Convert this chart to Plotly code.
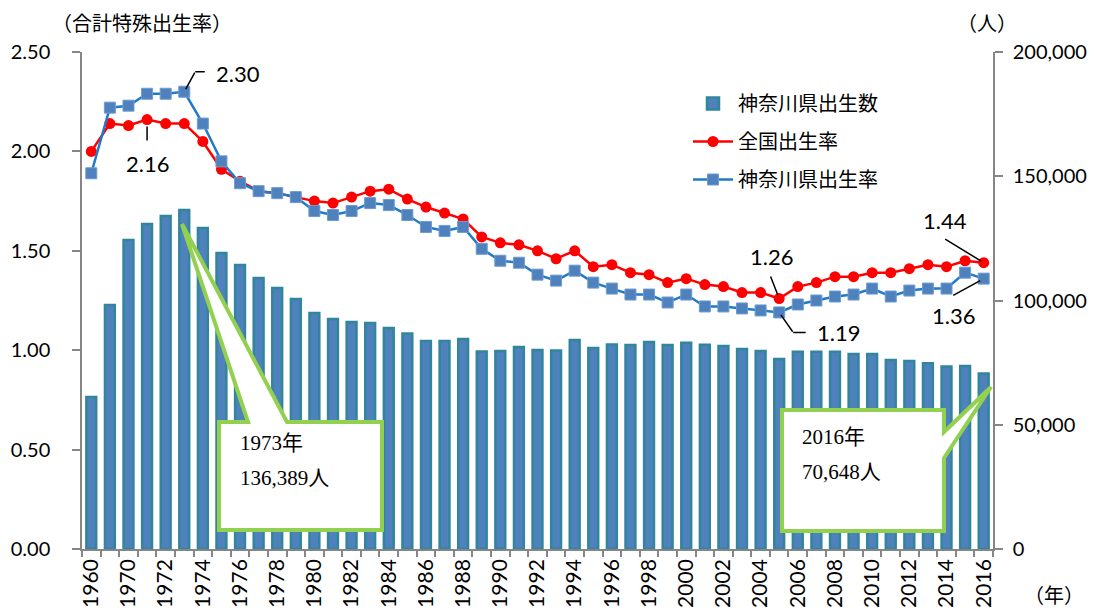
import plotly.graph_objects as go

years = ["1960", "1965"] + [str(y) for y in range(1970, 2017)]

births_kanagawa = [
    61200, 98200, 124300, 130800, 134000, 136389, 129200, 119100, 114300, 109100,
    105000, 100600, 95000, 92600, 91300, 90900, 88900, 86700, 83700, 83700,
    84500, 79500, 79700, 81300, 80100, 79900, 84100, 80900, 82300, 82100,
    83300, 82100, 83000, 82200, 81700, 80500, 79700, 76500, 79400, 79400,
    79400, 78500, 78500, 76100, 75700, 74700, 73400, 73600, 70648,
]

tfr_national = [
    2.00, 2.14, 2.13, 2.16, 2.14, 2.14, 2.05, 1.91, 1.85, 1.80,
    1.79, 1.77, 1.75, 1.74, 1.77, 1.80, 1.81, 1.76, 1.72, 1.69,
    1.66, 1.57, 1.54, 1.53, 1.50, 1.46, 1.50, 1.42, 1.43, 1.39,
    1.38, 1.34, 1.36, 1.33, 1.32, 1.29, 1.29, 1.26, 1.32, 1.34,
    1.37, 1.37, 1.39, 1.39, 1.41, 1.43, 1.42, 1.45, 1.44,
]

tfr_kanagawa = [
    1.89, 2.22, 2.23, 2.29, 2.29, 2.30, 2.14, 1.95, 1.84, 1.80,
    1.79, 1.77, 1.70, 1.68, 1.70, 1.74, 1.73, 1.68, 1.62, 1.60,
    1.62, 1.51, 1.45, 1.44, 1.38, 1.35, 1.40, 1.34, 1.31, 1.28,
    1.28, 1.24, 1.28, 1.22, 1.22, 1.21, 1.20, 1.19, 1.23, 1.25,
    1.27, 1.28, 1.31, 1.27, 1.30, 1.31, 1.31, 1.39, 1.36,
]

tick_text = [y if i % 2 == 0 else "" for i, y in enumerate(years)]

NUM_FONT = "Lato, 'Liberation Sans', sans-serif"
JP_FONT = "'Noto Sans CJK JP', sans-serif"
SERIF = "'Liberation Serif', 'Noto Sans CJK JP', serif"
AXIS_COLOR = "#868686"
GREEN = "#92D050"

# page has an 8px body margin; work in page pixels, figure is shifted by OFF
OFF = 8
L, R, T, B = 82, 993, 52, 549
W, H = 1098 - OFF, 615 - OFF


def px(xp):
    return (xp - L) / (R - L)


def py(yp):
    return (B - yp) / (B - T)


fig = go.Figure()

fig.add_trace(go.Bar(
    x=years, y=births_kanagawa, name="神奈川県出生数",
    marker=dict(color="#4F81BD", line=dict(color="#31859C", width=2.5)),
    yaxis="y", legendgroup="a",
))
fig.add_trace(go.Scatter(
    x=years, y=tfr_national, name="全国出生率", mode="lines+markers",
    line=dict(color="#FF0000", width=2.5),
    marker=dict(symbol="circle", size=11, color="#FF0000"),
    yaxis="y2", legendgroup="b",
))
fig.add_trace(go.Scatter(
    x=years, y=tfr_kanagawa, name="神奈川県出生率", mode="lines+markers",
    line=dict(color="#1F7AC8", width=2.5),
    marker=dict(symbol="square", size=11, color="#4F81BD",
                line=dict(color="#6E9BD3", width=1)),
    yaxis="y2", legendgroup="c",
))

annotations = []


def leader(year, series, ax, ay, xshift=0, yshift=0, standoff=0):
    i = years.index(year)
    annotations.append(dict(
        x=i, y=series[i], xref="x", yref="y2", text=" ", showarrow=True,
        arrowhead=0, arrowwidth=1.5, arrowcolor="black", ax=ax, ay=ay,
        xshift=xshift, yshift=yshift, standoff=standoff,
        font=dict(size=1), borderpad=0,
    ))


def label(text, xpix, ypix, size=22):
    annotations.append(dict(
        x=px(xpix), y=py(ypix), xref="paper", yref="paper", text=text,
        showarrow=False, xanchor="center", yanchor="middle",
        font=dict(family=NUM_FONT, size=size, color="black"),
    ))


# 2.30 (Kanagawa 1973)
leader("1973", tfr_kanagawa, 11, -20, standoff=3)
leader("1973", tfr_kanagawa, 10, 0, xshift=11, yshift=20)
label("2.30", 238, 74)
# 2.16 (national 1971)
leader("1971", tfr_national, 0, 22, standoff=7)
label("2.16", 147, 163)
# 1.26 (national 2005)
leader("2005", tfr_national, -9, -23, standoff=4)
label("1.26", 771, 256)
# 1.19 (Kanagawa 2005)
leader("2005", tfr_kanagawa, 14, 20, standoff=3)
leader("2005", tfr_kanagawa, 13, 0, xshift=14, yshift=-20)
label("1.19", 838, 332)
# 1.44 (national 2016)
leader("2016", tfr_national, -39, -24, standoff=3)
label("1.44", 945, 220)
# 1.36 (Kanagawa 2016)
leader("2016", tfr_kanagawa, -31, 17, standoff=4)
label("1.36", 953, 316)

# axis titles
annotations.append(dict(x=px(50), y=py(22), xref="paper", yref="paper",
                        text="（合計特殊出生率）", showarrow=False, xanchor="left",
                        yanchor="middle", font=dict(family=JP_FONT, size=20, color="black")))
annotations.append(dict(x=px(955), y=py(22), xref="paper", yref="paper",
                        text="（人）", showarrow=False, xanchor="left",
                        yanchor="middle", font=dict(family=JP_FONT, size=20, color="black")))
annotations.append(dict(x=px(1022), y=py(594), xref="paper", yref="paper",
                        text="（年）", showarrow=False, xanchor="left",
                        yanchor="middle", font=dict(family=JP_FONT, size=20, color="black")))

# callout texts
for lines_, xl, yt in [(("1973年", "136,389人"), 238, 443),
                       (("2016年", "70,648人"), 800, 437)]:
    for k, t in enumerate(lines_):
        annotations.append(dict(x=px(xl), y=py(yt + 35 * k), xref="paper", yref="paper",
                                text=t, showarrow=False, xanchor="left", yanchor="middle",
                                font=dict(family=SERIF, size=21, color="black")))

shapes = []


def callout(points):
    d = "M " + " L ".join(f"{px(a):.5f},{py(b):.5f}" for a, b in points) + " Z"
    shapes.append(dict(type="path", path=d, xref="paper", yref="paper",
                       fillcolor="white", line=dict(color=GREEN, width=4), layer="above"))


callout([(219, 422), (248, 422), (182, 224), (287, 422), (382, 422),
         (382, 530), (219, 530)])
callout([(782, 410), (944, 410), (944, 432), (991, 387), (944, 458),
         (944, 531), (782, 531)])

fig.update_layout(
    width=W, height=H,
    margin=dict(l=L - OFF, r=1098 - R, t=T - OFF, b=615 - B, pad=0),
    paper_bgcolor="white", plot_bgcolor="white",
    bargap=0.47,
    showlegend=True,
    legend=dict(x=px(688), y=py(84), xanchor="left", yanchor="top",
                font=dict(family=JP_FONT, size=20, color="black"),
                bgcolor="rgba(0,0,0,0)", tracegroupgap=9, traceorder="grouped",
                itemwidth=40),
    xaxis=dict(type="category", range=[-0.5, len(years) - 0.5],
               tickmode="array", tickvals=years, ticktext=tick_text,
               tickson="boundaries", ticks="outside", ticklen=6, tickcolor=AXIS_COLOR,
               tickwidth=1.5, tickangle=-90, showline=True, linecolor=AXIS_COLOR,
               linewidth=1.5, showgrid=False, automargin=False,
               tickfont=dict(family=NUM_FONT, size=21, color="black")),
    yaxis=dict(side="right", range=[0, 200000], tickvals=[0, 50000, 100000, 150000, 200000],
               tickformat=",", ticks="outside", ticklen=8, tickcolor=AXIS_COLOR, tickwidth=1.5,
               showline=True, linecolor=AXIS_COLOR, linewidth=1.5, showgrid=False,
               zeroline=False, automargin=False, ticklabelstandoff=6,
               tickfont=dict(family=NUM_FONT, size=20, color="black")),
    yaxis2=dict(side="left", overlaying="y", range=[0, 2.5],
                tickvals=[0, 0.5, 1.0, 1.5, 2.0, 2.5], tickformat=".2f",
                ticks="outside", ticklen=8, tickcolor=AXIS_COLOR, tickwidth=1.5,
                showline=True, linecolor=AXIS_COLOR, linewidth=1.5, showgrid=False,
                zeroline=False, automargin=False, ticklabelstandoff=18,
                tickfont=dict(family=NUM_FONT, size=20, color="black")),
    annotations=annotations,
    shapes=shapes,
)

fig.write_html("out.html")
